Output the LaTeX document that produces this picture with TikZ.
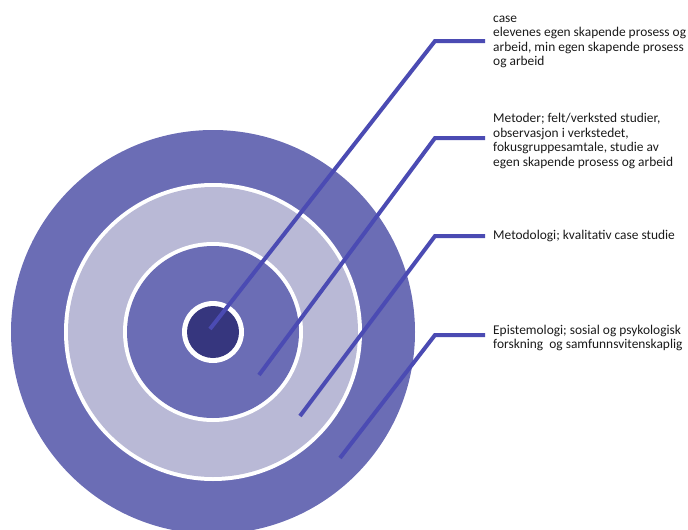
\documentclass[tikz,border=0pt]{standalone}
\usepackage{fontspec}
\setmainfont{Carlito}
\definecolor{ringA}{HTML}{6B6DB5}
\definecolor{ringB}{HTML}{B9B9D6}
\definecolor{ringC}{HTML}{36367E}
\definecolor{leader}{HTML}{4B4BB3}
\definecolor{txt}{HTML}{1A1A1A}
\begin{document}
\begin{tikzpicture}[x=1pt,y=-1pt,
  leaderline/.style={draw=leader,line width=4pt},
  label/.style={anchor=west,align=left,inner sep=0pt,text=txt,font=\fontsize{13.4}{14.4}\selectfont}]
\useasboundingbox (0,0) rectangle (688,530);
\begin{scope}
\clip (0,0) rectangle (688,530);
\fill[ringA] (213,332) circle[radius=202];
\fill[white] (213,332) circle[radius=149];
\fill[ringB] (213,332) circle[radius=145];
\fill[white] (213,332) circle[radius=90];
\fill[ringA] (213,332) circle[radius=86];
\fill[white] (213,332) circle[radius=31];
\fill[ringC] (213,332) circle[radius=26];
\end{scope}
% anchor points
\coordinate (s1) at (210,329);
\coordinate (c1) at (435,41);
\coordinate (e1) at (485,41);
\coordinate (s2) at (259,375);
\coordinate (c2) at (435,138);
\coordinate (e2) at (485,138);
\coordinate (s3) at (300,416);
\coordinate (c3) at (435,236);
\coordinate (e3) at (485,236);
\coordinate (s4) at (340,458);
\coordinate (c4) at (435,335);
\coordinate (e4) at (485,335);
\draw[leaderline] (s1) -- (c1) -- (e1);
\draw[leaderline] (s2) -- (c2) -- (e2);
\draw[leaderline] (s3) -- (c3) -- (e3);
\draw[leaderline] (s4) -- (c4) -- (e4);
\node[label] (t1) at (493,42) {case\\elevenes egen skapende prosess og\\arbeid, min egen skapende prosess\\og arbeid};
\node[label] (t2) at (493,141) {Metoder; felt/verksted studier,\\observasjon i verkstedet,\\fokusgruppesamtale, studie av\\egen skapende prosess og arbeid};
\node[label] (t3) at (493,236) {Metodologi; kvalitativ case studie};
\node[label] (t4) at (493,338) {Epistemologi; sosial og psykologisk\\forskning\ \ og samfunnsvitenskaplig};
\end{tikzpicture}
\end{document}
